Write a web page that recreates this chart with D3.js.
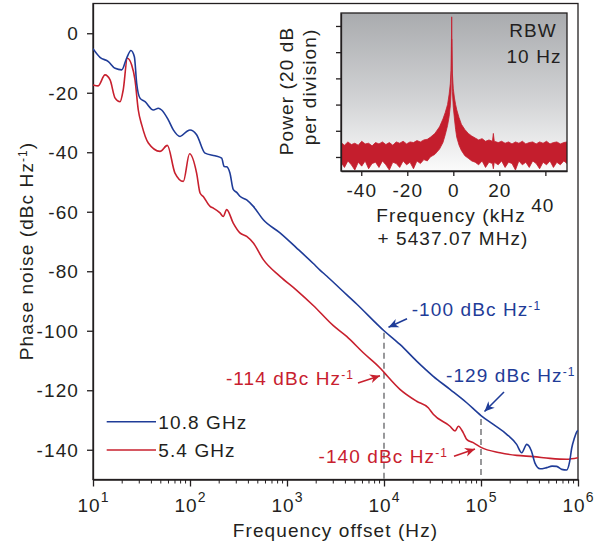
<!DOCTYPE html>
<html>
<head>
<meta charset="utf-8">
<script src="https://cdn.jsdelivr.net/npm/d3@7"></script>
<style>
body { margin: 0; background: #fff; }
text { font-family: "Liberation Sans", Arial, sans-serif; font-size: 19px; letter-spacing: 1.1px; fill: #231f20; }
</style>
</head>
<body>
<div id="chart"></div>
<script>
// phase noise, 10.8 GHz (Hz, dBc/Hz)
const freqBlue = [10, 11.8, 14.4, 16.9, 19.8, 22.2, 24.6, 26.7, 28.2, 30.5, 34.4, 41.9, 47.2, 51, 59.7, 67.3, 78.9, 92.5, 100, 117,
  143, 181, 212, 225, 239, 258, 279, 303, 327, 384, 450, 570, 847, 1259, 1866, 2188, 2564, 3517, 5224, 10000, 14600,
  21700, 32200, 47900, 71200, 100000, 134000, 184000, 233000, 263000, 296000, 331000, 360000, 406000, 475000, 540000, 603000,
  680000, 764000, 820000, 861000, 920000, 960000, 1000000];
const noiseBlue = [-5.2, -8.1, -9.5, -11.8, -12.3, -8.4, -5.8, -7.9, -16.8, -21.8, -23, -25.8, -25.2, -25.8, -29.1, -32.5, -34.7, -33, -32.5, -34.1,
  -40.3, -41.2, -42, -44.8, -44.9, -47, -52.5, -53.5, -54.8, -56, -58.2, -62.7, -67.1, -72.2, -77.4, -79.6, -81.6, -85.8, -91, -100, -104.6,
  -110.2, -115.3, -119.7, -124.2, -128.5, -131.5, -134.8, -138.2, -141, -138.2, -140.4, -144.5, -146.4, -146, -145.5, -145.6,
  -146.6, -146.8, -144, -139.5, -136, -134.3, -133.5];

// phase noise, 5.4 GHz
const freqRed = [10, 11.3, 13.3, 15, 16.9, 19, 20.5, 22.6, 25, 27.1, 29.3, 31.8, 37.2, 49.1, 58.4, 70, 85.3, 99, 117, 127,
  137, 161, 174, 204, 220, 239, 279, 327, 384, 450, 570, 847, 1259, 1866, 3005, 4121, 6120, 9100, 10000, 14600,
  21700, 28600, 32200, 47900, 54000, 58400, 65700, 71200, 83200, 100000, 157000, 233000, 347000, 514000, 764000, 1000000];
const noiseRed = [-17.4, -17.7, -14, -15.7, -21.8, -23, -19, -8.4, -10.6, -15.7, -25.8, -30.8, -36.9, -39.7, -37.7, -47, -49.8, -40.5, -47, -53.7,
  -54.9, -58.2, -58.8, -60.4, -61.6, -59.3, -63.8, -67.1, -68.3, -70.5, -76.1, -81.7, -86.4, -91.5, -98.3, -101.9, -107.4, -112.5, -114, -119.7,
  -123.7, -125.9, -128.1, -132.1, -133.7, -132.1, -134.3, -136.5, -137.6, -139.2, -141, -141.9, -142.3, -142.9, -143.2, -142.7];

const xTickExp = [1, 2, 3, 4, 5, 6];
const yTicks = [0, -20, -40, -60, -80, -100, -120, -140];
const legendLabels = ["10.8 GHz", "5.4 GHz"];

// annotations: [frequency, value]
const annBlue = [[1e4, -100], [1e5, -129]];
const annRed = [[1e4, -114], [1e5, -140]];

// inset spectrum (kHz offset, dB envelope of the trace)
const insetFreq = [-48.8, -47.3, -45.8, -44.3, -42.8, -41.3, -39.8, -38.3, -36.8, -35.3, -33.8, -32.3, -30.8, -29.3, -27.8, -26.3,
  -24.8, -23.3, -21.8, -20.3, -18.8, -17.3, -15.8, -14.3, -12.8, -11.3, -10,
  -8, -6, -4.5, -3.5, -2.5, -1.8, -1.3, -1.0, -0.8, -0.7, -0.6, -0.4, 0, 0.5, 1, 1.5, 2.5, 3.5, 5, 6.5, 8,
  9.5, 11, 12.5, 14, 15.5, 17, 17.4, 17.8, 19.5, 21, 22.5, 24, 25.5, 27, 28.5, 30, 31.5, 33, 34.5, 36,
  37.5, 39, 40.5, 42, 43.5, 45, 46.5, 48, 49.4];
const insetUpper = [-89, -91, -88.5, -90.5, -89.5, -91, -88, -90, -89.5, -91.5, -89, -90, -88.5, -90.5, -89, -91,
  -88.5, -89.5, -88, -90, -88.5, -89, -87.5, -88.5, -87, -86.5, -85,
  -82, -77, -71, -66, -60, -52, -44, -34, -10, 7, -10, -36, -48, -55, -60, -64, -70, -75, -79, -82, -84,
  -85.5, -87, -86, -88, -87, -88, -82, -88, -89, -88, -89.5, -88.5, -90, -88.5, -89.5, -88, -90, -89, -88.5, -90,
  -88.5, -89.5, -88, -90, -89, -88.5, -90, -89, -88.5];
const insetLower = [-104, -108, -103, -106, -110, -104, -107, -103, -109, -105, -104, -108, -103, -106, -110, -104,
  -105, -108, -103, -106, -104, -109, -103, -105, -102, -103, -100,
  -98, -94, -89, -83, -76, -69, -61, -51, -30, -10, -30, -50, -62, -71, -79, -85, -91, -95, -99, -101, -103,
  -104, -106, -103, -108, -104, -105, -109, -104, -106, -103, -108, -104, -105, -110, -103, -106, -104, -108, -103, -105,
  -109, -104, -106, -103, -108, -104, -106, -103, -105];
const insetXTicks = [-40, -20, 0, 20, 40];
const insetYTicks = [-100, -80, -60, -40, -20, 0];

const width = 594, height = 544;
const blue = "#1f3c98", red = "#c8202e", ink = "#231f20";

const svg = d3.select("#chart").append("svg")
  .attr("width", width)
  .attr("height", height);

const pL = 93, pR = 578, pT = 3.5, pB = 479.5;

const x = d3.scaleLog().domain([10, 1e6]).range([pL, pR]);
const y = d3.scaleLinear().domain([-150, 10]).range([pB, pT]);

const defs = svg.append("defs");

defs.append("clipPath").attr("id", "plot-clip")
  .append("rect")
  .attr("x", pL).attr("y", pT)
  .attr("width", pR - pL).attr("height", pB - pT);

// axes
const gy = svg.append("g")
  .attr("transform", `translate(${pL},0)`)
  .call(d3.axisLeft(y).tickValues(yTicks).tickSize(6).tickSizeOuter(0).tickFormat(d => d));
gy.attr("font-size", null).attr("font-family", null);
gy.selectAll("text").attr("x", -14).attr("dy", "0.35em");

const gx = svg.append("g")
  .attr("transform", `translate(0,${pB})`)
  .call(d3.axisBottom(x).tickValues(xTickExp.map(e => Math.pow(10, e))).tickSize(7).tickSizeOuter(0).tickFormat(""));
gx.attr("font-size", null).attr("font-family", null);
gx.selectAll(".tick text").remove();
gx.selectAll(".tick").append("text")
  .attr("y", 32.2)
  .attr("text-anchor", "middle")
  .each(function(d) {
    const t = d3.select(this);
    t.append("tspan").text("10");
    t.append("tspan").attr("dy", -10).style("font-size", "14px").text(Math.round(Math.log10(d)));
  });

// minor log ticks
const minor = [];
for (let e = 1; e < 6; e++) for (let k = 2; k < 10; k++) minor.push(k * Math.pow(10, e));
svg.append("g").selectAll("line").data(minor).enter().append("line")
  .attr("x1", d => x(d)).attr("x2", d => x(d))
  .attr("y1", pB).attr("y2", pB + 4)
  .attr("stroke", ink);

svg.selectAll(".domain, .tick line").attr("stroke", ink).attr("stroke-width", 1.3);

svg.append("rect")
  .attr("x", pL).attr("y", pT)
  .attr("width", pR - pL).attr("height", pB - pT)
  .attr("fill", "none").attr("stroke", ink).attr("stroke-width", 1.3);

// dashed guides
svg.append("g").selectAll("line").data(annBlue).enter().append("line")
  .attr("x1", d => x(d[0])).attr("x2", d => x(d[0]))
  .attr("y1", d => y(d[1]) + 2).attr("y2", pB)
  .attr("stroke", "#6d6e71").attr("stroke-width", 1.4)
  .attr("stroke-dasharray", "6,4");

// curves
const line = d3.line()
  .x(d => x(d[0]))
  .y(d => y(d[1]))
  .curve(d3.curveMonotoneX);

const curves = svg.append("g").attr("clip-path", "url(#plot-clip)");
curves.append("path")
  .datum(d3.zip(freqRed, noiseRed))
  .attr("d", line)
  .attr("fill", "none").attr("stroke", red).attr("stroke-width", 1.6);
curves.append("path")
  .datum(d3.zip(freqBlue, noiseBlue))
  .attr("d", line)
  .attr("fill", "none").attr("stroke", blue).attr("stroke-width", 1.6);

// arrows
[["arrow-blue", blue], ["arrow-red", red]].forEach(([id, c]) => {
  defs.append("marker")
    .attr("id", id)
    .attr("viewBox", "-10 -5 12 10")
    .attr("refX", 0).attr("refY", 0)
    .attr("markerWidth", 12).attr("markerHeight", 10)
    .attr("markerUnits", "userSpaceOnUse")
    .attr("orient", "auto")
    .append("path")
    .attr("d", "M0,0 L-10,-4.5 L-7,0 L-10,4.5 Z")
    .attr("fill", c);
});

function supText(g, px, py, anchor, color, main, sup) {
  const t = g.append("text")
    .attr("x", px).attr("y", py)
    .attr("text-anchor", anchor)
    .style("fill", color);
  t.append("tspan").text(main);
  t.append("tspan").attr("dy", -6).style("font-size", "12px").text(sup);
  return t;
}

// offsets of text and arrows from the annotated points
const annotations = [
  { p: annBlue[0], c: blue, m: "arrow-blue", tail: [23, -12], tip: [4.5, -3.5], tx: [27.7, -14.5], anchor: "start" },
  { p: annBlue[1], c: blue, m: "arrow-blue", tail: [23, -25], tip: [3.5, -5.5], tx: [-35, -35.3], anchor: "start" },
  { p: annRed[0], c: red, m: "arrow-red", tail: [-26, 10.5], tip: [-4, 3.3], tx: [-30, 12.6], anchor: "end" },
  { p: annRed[1], c: red, m: "arrow-red", tail: [-27, 6.5], tip: [-6, -0.8], tx: [-33, 13.5], anchor: "end" }
];
const ann = svg.append("g");
annotations.forEach(a => {
  const px = x(a.p[0]), py = y(a.p[1]);
  ann.append("line")
    .attr("x1", px + a.tail[0]).attr("y1", py + a.tail[1])
    .attr("x2", px + a.tip[0]).attr("y2", py + a.tip[1])
    .attr("stroke", a.c).attr("stroke-width", 1.6)
    .attr("marker-end", `url(#${a.m})`);
  supText(ann, px + a.tx[0], py + a.tx[1], a.anchor, a.c, `${a.p[1]} dBc Hz`, "-1");
});

// legend
const legend = svg.append("g");
legendLabels.forEach((lab, i) => {
  const ly = 421.7 + i * 28.3;
  legend.append("line")
    .attr("x1", 106.7).attr("x2", 156)
    .attr("y1", ly).attr("y2", ly)
    .attr("stroke", i === 0 ? blue : red).attr("stroke-width", 1.6);
  legend.append("text")
    .attr("x", 158.3).attr("y", ly + 7)
    .text(lab);
});

// axis titles
svg.append("text")
  .attr("x", (pL + pR) / 2).attr("y", 536.7)
  .attr("text-anchor", "middle")
  .text("Frequency offset (Hz)");

const yl = svg.append("text")
  .attr("transform", "translate(33,251) rotate(-90)")
  .attr("text-anchor", "middle");
yl.append("tspan").text("Phase noise (dBc Hz");
yl.append("tspan").attr("dy", -6).style("font-size", "12px").text("-1");
yl.append("tspan").attr("dy", 6).text(")");

// ---- inset ----
const il = 341, ir = 567, it = 13, ib = 171;
const ix = d3.scaleLinear().domain([-48.8, 49.4]).range([il, ir]);
const iy = d3.scaleLinear().domain([-110.7, 9.9]).range([ib, it]);

const grad = defs.append("linearGradient")
  .attr("id", "inset-bg")
  .attr("x1", 0).attr("y1", 0).attr("x2", 0).attr("y2", 1);
grad.append("stop").attr("offset", "0%").attr("stop-color", "#a9abae");
grad.append("stop").attr("offset", "55%").attr("stop-color", "#d2d3d5");
grad.append("stop").attr("offset", "100%").attr("stop-color", "#fbfbfb");

defs.append("clipPath").attr("id", "inset-clip")
  .append("rect")
  .attr("x", il).attr("y", it)
  .attr("width", ir - il).attr("height", ib - it);

svg.append("rect")
  .attr("x", il).attr("y", it)
  .attr("width", ir - il).attr("height", ib - it)
  .attr("fill", "url(#inset-bg)");

const area = d3.area()
  .x(d => ix(d[0]))
  .y0(d => iy(d[2]))
  .y1(d => iy(d[1]));

svg.append("path")
  .datum(d3.zip(insetFreq, insetUpper, insetLower))
  .attr("clip-path", "url(#inset-clip)")
  .attr("d", area)
  .attr("fill", "#c41e2d")
  .attr("stroke", "#c41e2d").attr("stroke-width", 0.8);

const igx = svg.append("g")
  .attr("transform", `translate(0,${ib})`)
  .call(d3.axisBottom(ix).tickValues(insetXTicks).tickSize(5).tickSizeOuter(0).tickFormat(""));
igx.attr("font-size", null).attr("font-family", null);
igx.selectAll(".tick text").remove();
igx.selectAll(".tick").append("text")
  .attr("text-anchor", "middle")
  .attr("x", d => d === 40 ? -3 : 0)
  .attr("y", d => d === 40 ? 40.7 : 25.7)
  .text(d => d);

const igy = svg.append("g")
  .attr("transform", `translate(${il},0)`)
  .call(d3.axisLeft(iy).tickValues(insetYTicks).tickSize(5).tickSizeOuter(0).tickFormat(""));
igy.selectAll(".tick text").remove();

svg.selectAll(".domain, .tick line").attr("stroke", ink).attr("stroke-width", 1.3);

svg.append("rect")
  .attr("x", il).attr("y", it)
  .attr("width", ir - il).attr("height", ib - it)
  .attr("fill", "none").attr("stroke", ink).attr("stroke-width", 1.3);

const rbw = svg.append("text").attr("text-anchor", "middle");
rbw.append("tspan").attr("x", 533).attr("y", 36.7).text("RBW");
rbw.append("tspan").attr("x", 534).attr("y", 63.3).text("10 Hz");

svg.append("text").attr("x", 451).attr("y", 221.7).attr("text-anchor", "middle").text("Frequency (kHz");
svg.append("text").attr("x", 453).attr("y", 245).attr("text-anchor", "middle").text("+ 5437.07 MHz)");

svg.append("text").attr("transform", "translate(293,91) rotate(-90)").attr("text-anchor", "middle").text("Power (20 dB");
svg.append("text").attr("transform", "translate(316,87) rotate(-90)").attr("text-anchor", "middle").text("per division)");
</script>
</body>
</html>
